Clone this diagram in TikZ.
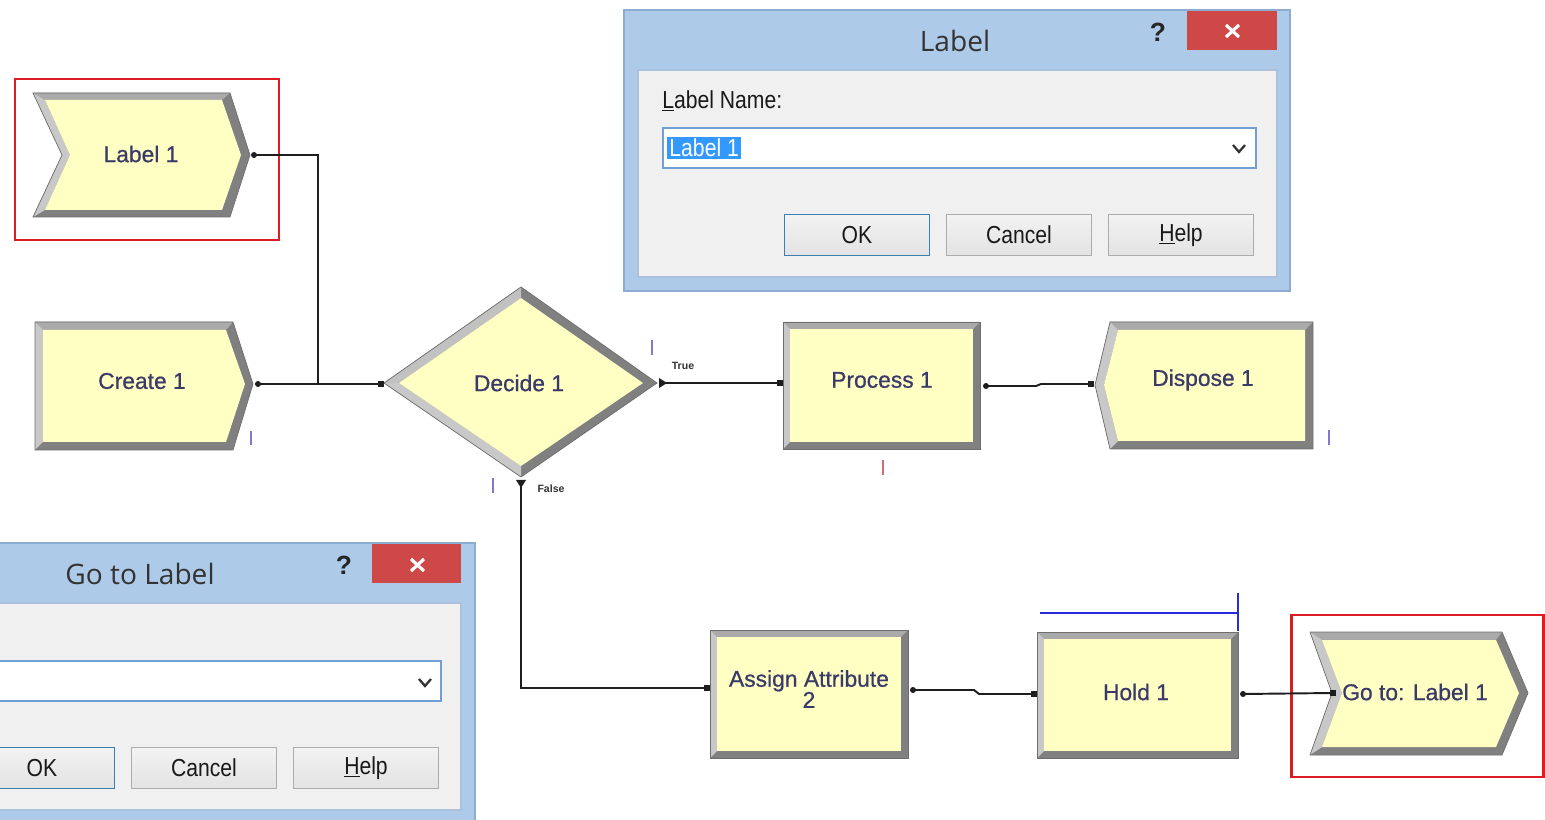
\documentclass[tikz,border=0pt]{standalone}
\usepackage{fontspec}
\setmainfont{Liberation Sans}
\newfontfamily\modfont[FakeBold=0.7]{Liberation Sans}
\newfontfamily\dlgfont[FakeStretch=0.86]{Liberation Sans}
\newfontfamily\ttlfont{Open Sans}
\usetikzlibrary{calc}

\definecolor{modfill}{RGB}{255,255,196}
\definecolor{bevlight}{RGB}{200,200,200}
\definecolor{bevmid}{RGB}{170,170,170}
\definecolor{bevdark}{RGB}{128,128,128}
\definecolor{modedge}{RGB}{110,110,110}
\definecolor{modtext}{RGB}{58,58,104}
\definecolor{flow}{RGB}{30,30,30}
\definecolor{hilite}{RGB}{220,30,35}
\definecolor{winframe}{RGB}{174,202,233}
\definecolor{winedge}{RGB}{140,172,210}
\definecolor{client}{RGB}{240,240,240}
\definecolor{clientedge}{RGB}{170,192,220}
\definecolor{closered}{RGB}{206,72,72}
\definecolor{comboedge}{RGB}{110,160,215}
\definecolor{selblue}{RGB}{51,153,255}
\definecolor{btnedge}{RGB}{172,172,172}
\definecolor{btndef}{RGB}{60,127,177}
\definecolor{idblue}{RGB}{130,120,210}
\definecolor{idred}{RGB}{200,110,120}
\definecolor{queueblue}{RGB}{40,40,220}

% a rectangular module with a bevelled frame
\newcommand\bevelbox[4]{%
  \fill[bevdark] (#1,#2) rectangle (#3,#4);
  \fill[bevmid] (#1,#2) -- (#3,#2) -- ($(#3,#2)+(-7,7)$) -- ($(#1,#2)+(7,7)$) -- cycle;
  \fill[bevlight] (#1,#2) -- ($(#1,#2)+(7,7)$) -- ($(#1,#4)+(7,-7)$) -- (#1,#4) -- cycle;
  \fill[modfill] ($(#1,#2)+(7,7)$) rectangle ($(#3,#4)+(-7,-7)$);
  \draw[modedge, line width=0.4pt] (#1,#2) rectangle (#3,#4);
}

\begin{document}
\begin{tikzpicture}[x=0.02cm,y=-0.02cm,
  modlabel/.style={font=\modfont\fontsize{13}{15}\selectfont, text=modtext, inner sep=0pt, align=center},
  flowline/.style={draw=flow, line width=1.1pt},
  tiny/.style={font=\bfseries\fontsize{6}{6}\selectfont, text=black!80, inner sep=0pt},
  idmark/.style={line width=1.4pt},
  hibox/.style={draw=hilite, line width=1.7pt},
  wintitle/.style={font=\ttlfont\fontsize{16}{16}\selectfont, text=black!80, inner sep=0pt},
  qmark/.style={font=\bfseries\fontsize{15}{15}\selectfont, text=black!85, inner sep=0pt},
  dlgtext/.style={font=\dlgfont\fontsize{14}{16}\selectfont, text=black!90, inner sep=0pt},
  btn/.style={dlgtext, draw=btnedge, line width=0.6pt, top color=white!95!black, bottom color=white!89!black,
    minimum width=2.9cm, minimum height=0.82cm},
  defbtn/.style={btn, draw=btndef, line width=0.9pt},
  selected/.style={dlgtext, fill=selblue, text=white, inner sep=1.2pt, anchor=west},
]
\useasboundingbox (0,0) rectangle (1545,820);
\clip (0,0) rectangle (1545,820);
\fill[white] (0,0) rectangle (1545,820);

%---------------- modules ----------------
% Label 1
\fill[bevdark] (33,93) -- (230,93) -- (250,155) -- (230,217) -- (33,217) -- (62,155) -- cycle;
\fill[bevmid] (33,93) -- (230,93) -- (222,100) -- (45,100) -- cycle;
\fill[bevlight] (33,93) -- (45,100) -- (70,155) -- (45,210) -- (33,217) -- (62,155) -- cycle;
\fill[modfill] (45,100) -- (222,100) -- (241,155) -- (222,210) -- (45,210) -- (70,155) -- cycle;
\draw[modedge, line width=0.4pt] (33,93) -- (230,93) -- (250,155) -- (230,217) -- (33,217) -- (62,155) -- cycle;
\node[modlabel] (label1) at (141,154) {Label 1};
\draw[hibox] (15,79) rectangle (279,240);

% Create 1
\fill[bevdark] (35,322) -- (233,322) -- (253,384) -- (233,450) -- (35,450) -- cycle;
\fill[bevmid] (35,322) -- (233,322) -- (226,330) -- (43,330) -- cycle;
\fill[bevlight] (35,322) -- (43,330) -- (43,442) -- (35,450) -- cycle;
\fill[modfill] (43,330) -- (226,330) -- (245,384) -- (226,442) -- (43,442) -- cycle;
\draw[modedge, line width=0.4pt] (35,322) -- (233,322) -- (253,384) -- (233,450) -- (35,450) -- cycle;
\node[modlabel] (create1) at (142,381) {Create 1};

% Decide 1
\fill[bevdark] (384,383) -- (521,287) -- (657,383) -- (521,477) -- cycle;
\fill[bevlight!90!gray] (384,383) -- (521,287) -- (521,298) -- (399,383) -- cycle;
\fill[bevlight] (384,383) -- (399,383) -- (521,466) -- (521,477) -- cycle;
\fill[modfill] (399,383) -- (521,298) -- (643,383) -- (521,466) -- cycle;
\draw[modedge, line width=0.4pt] (384,383) -- (521,287) -- (657,383) -- (521,477) -- cycle;
\node[modlabel] (decide1) at (519,383) {Decide 1};

% Process 1
\bevelbox{783}{322}{980}{449}
\node[modlabel] (process1) at (882,380) {Process 1};

% Dispose 1
\fill[bevdark] (1110,322) -- (1313,322) -- (1313,449) -- (1110,449) -- (1095,385) -- cycle;
\fill[bevmid] (1110,322) -- (1313,322) -- (1305,330) -- (1118,330) -- cycle;
\fill[bevlight] (1110,322) -- (1118,330) -- (1104,385) -- (1118,441) -- (1110,449) -- (1095,385) -- cycle;
\fill[modfill] (1118,330) -- (1305,330) -- (1305,441) -- (1118,441) -- (1104,385) -- cycle;
\draw[modedge, line width=0.4pt] (1110,322) -- (1313,322) -- (1313,449) -- (1110,449) -- (1095,385) -- cycle;
\node[modlabel] (dispose1) at (1203,380) {Dispose 1};

% Assign Attribute 2
\bevelbox{710}{630}{908}{758}
\node[modlabel] (assign2) at (809,689) {Assign Attribute\\[-3pt]2};

% Hold 1 with its queue
\bevelbox{1037}{632}{1238}{758}
\node[modlabel] (hold1) at (1136,692) {Hold 1};
\draw[queueblue, line width=1.2pt] (1040,613) -- (1238,613);
\draw[queueblue, line width=1.2pt] (1238,593) -- (1238,631);

% Go to: Label 1
\fill[bevdark] (1310,632) -- (1502,632) -- (1528,693) -- (1502,755) -- (1310,755) -- (1332,693) -- cycle;
\fill[bevmid] (1310,632) -- (1502,632) -- (1496,640) -- (1322,640) -- cycle;
\fill[bevlight] (1310,632) -- (1322,640) -- (1342,693) -- (1322,747) -- (1310,755) -- (1332,693) -- cycle;
\fill[modfill] (1322,640) -- (1496,640) -- (1519,693) -- (1496,747) -- (1322,747) -- (1342,693) -- cycle;
\draw[modedge, line width=0.4pt] (1310,632) -- (1502,632) -- (1528,693) -- (1502,755) -- (1310,755) -- (1332,693) -- cycle;
\node[modlabel] (goto1) at (1415,692) {Go to: Label 1};
\draw[hibox] (1291,615) rectangle (1543,777);

%---------------- ports ----------------
\coordinate (label1-out) at (254,155);
\coordinate (create-out) at (258,384);
\coordinate (merge) at (318,384);
\coordinate (decide-in) at (381,384);
\coordinate (decide-true) at (663,383);
\coordinate (process-in) at (780,383);
\coordinate (process-out) at (986,386);
\coordinate (dispose-in) at (1091,384);
\coordinate (decide-false) at (521,484);
\coordinate (assign-in) at (707,688);
\coordinate (assign-out) at (913,690);
\coordinate (hold-in) at (1034,694);
\coordinate (hold-out) at (1243,694);
\coordinate (goto-in) at (1333,693);

%---------------- connectors ----------------
\draw[flowline] (label1-out) -| (merge);
\draw[flowline] (create-out) -- (decide-in);
\draw[flowline] (decide-true) -- (process-in);
\draw[flowline] (process-out) -- (1036,386) -- (1041,384) -- (dispose-in);
\draw[flowline] (decide-false) |- (assign-in);
\draw[flowline] (assign-out) -- (974,690) -- (979,694) -- (hold-in);
\draw[flowline] (hold-out) -- (goto-in);

% exit points
\foreach \p in {label1-out,create-out,process-out,assign-out,hold-out}
  \fill[flow] (\p) circle (1.7pt);
\fill[flow] ($(decide-true)+(-4,-5)$) -- ($(decide-true)+(4,0)$) -- ($(decide-true)+(-4,5)$) -- cycle;
\fill[flow] ($(decide-false)+(-5,-4)$) -- ($(decide-false)+(5,-4)$) -- ($(decide-false)+(0,4)$) -- cycle;
% entry points
\foreach \p in {decide-in,process-in,dispose-in,assign-in,hold-in,goto-in}
  \fill[flow] ($(\p)+(-3,-3)$) rectangle ($(\p)+(3,3)$);

\node[tiny] (lbl-true) at (683,366) {True};
\node[tiny] (lbl-false) at (551,489) {False};

% module id marks
\draw[idblue, idmark] (251,431) -- (251,445);
\draw[idblue, idmark] (652,340) -- (652,355);
\draw[idblue, idmark] (493,478) -- (493,493);
\draw[idblue, idmark] (1329,430) -- (1329,445);
\draw[idred, idmark] (883,460) -- (883,475);

%---------------- dialog: Label ----------------
\fill[winframe] (624,10) rectangle (1290,291);
\draw[winedge, line width=0.6pt] (624,10) rectangle (1290,291);
\fill[client] (638,70) rectangle (1277,277);
\draw[clientedge, line width=0.6pt] (638,70) rectangle (1277,277);
\node[wintitle] (lbl-title) at (955,41) {Label};
\node[qmark] (lbl-q) at (1158,32) {?};
\fill[closered] (1187,11) rectangle (1277,50);
\draw[white, line width=1.8pt] (1226,25) -- (1239,37) (1226,37) -- (1239,25);
\node[dlgtext, anchor=west] (lbl-name) at (662,101) {\underline{L}abel Name:};
\fill[white] (663,128) rectangle (1256,168);
\draw[comboedge, line width=0.8pt] (663,128) rectangle (1256,168);
\node[selected] (lbl-value) at (667,148) {Label 1};
\draw[black!80, line width=1.3pt] (1233,145) -- (1239,152) -- (1245,145);
\node[defbtn] (lbl-ok) at (857,235) {OK};
\node[btn] (lbl-cancel) at (1019,235) {Cancel};
\node[btn] (lbl-help) at (1181,235) {\underline{H}elp};

%---------------- dialog: Go to Label ----------------
\fill[winframe] (-10,543) rectangle (475,830);
\draw[winedge, line width=0.6pt] (-10,543) rectangle (475,830);
\fill[client] (-10,603) rectangle (461,810);
\draw[clientedge, line width=0.6pt] (-10,603) rectangle (461,810);
\node[wintitle] (goto-title) at (140,574) {Go to Label};
\node[qmark] (goto-q) at (344,565) {?};
\fill[closered] (372,544) rectangle (461,583);
\draw[white, line width=1.8pt] (411,559) -- (424,571) (411,571) -- (424,559);
\fill[white] (-10,661) rectangle (441,701);
\draw[comboedge, line width=0.8pt] (-10,661) rectangle (441,701);
\draw[black!80, line width=1.3pt] (419,679) -- (425,686) -- (431,679);
\node[defbtn] (goto-ok) at (42,768) {OK};
\node[btn] (goto-cancel) at (204,768) {Cancel};
\node[btn] (goto-help) at (366,768) {\underline{H}elp};
\end{tikzpicture}
\end{document}
